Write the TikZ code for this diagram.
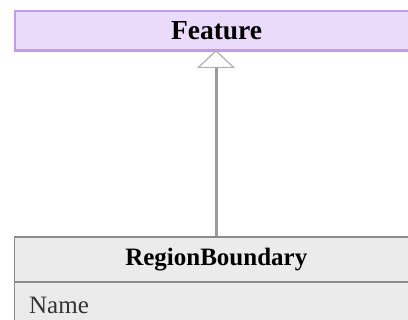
\documentclass[tikz,border=0pt]{standalone}
\usepackage{fontspec}
\setmainfont{Liberation Serif}
\usetikzlibrary{arrows.meta}
\definecolor{featfill}{HTML}{EADBFB}
\definecolor{featline}{HTML}{C29CEA}
\definecolor{rbfill}{HTML}{EBEBEB}
\definecolor{rbline}{HTML}{8C8C8C}
\definecolor{genline}{HTML}{9A9A9A}
\definecolor{tipline}{HTML}{B0B0B0}
\tikzset{
  featurebox/.style={draw=featline, fill=featfill, line width=2.2pt, rectangle,
    minimum width=404pt, minimum height=39.5pt, inner sep=0pt, anchor=north west,
    font=\fontsize{27.5}{30}\selectfont\bfseries},
  headbox/.style={draw=rbline, fill=rbfill, line width=1.6pt, rectangle,
    minimum width=404pt, minimum height=45pt, inner sep=0pt, anchor=north west,
    font=\fontsize{25}{28}\selectfont\bfseries},
  attrbox/.style={draw=rbline, fill=rbfill, line width=1.6pt, rectangle,
    minimum width=404pt, minimum height=50pt, inner sep=0pt, anchor=north west},
  attrtext/.style={anchor=base west, inner sep=0pt, font=\fontsize{25}{28}\selectfont, text=black!80},
  generalization/.style={draw=genline, line width=3pt,
    -{Triangle[length=18pt, width=38pt, line width=1.2pt, color=tipline, fill=white]}}
}
\begin{document}
\begin{tikzpicture}[x=1pt,y=1pt]
\useasboundingbox (0,0) rectangle (408,-320);
\clip (0,0) rectangle (408,-320);
\node[featurebox] (feature) at (13.5,-10) {Feature};
\node[attrbox] (rbattr) at (13.5,-281) {};
\node[headbox] (rb) at (13.5,-236) {RegionBoundary};
\node[attrtext] (name) at (29,-313.5) {Name};
\coordinate (rbtop) at (216,-236);
\coordinate (feattip) at (216,-50);
\draw[generalization] (rbtop) -- (feattip);
\end{tikzpicture}
\end{document}
